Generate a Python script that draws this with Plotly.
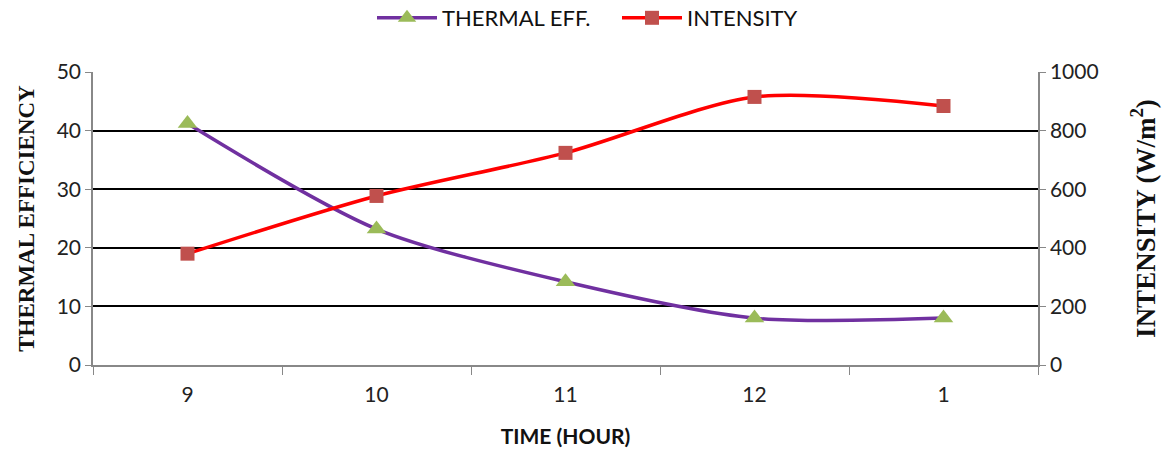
import plotly.graph_objects as go

hours = ["9", "10", "11", "12", "1"]
thermal_eff = [41.2, 23.2, 14.2, 8.0, 8.0]
intensity = [380, 577, 724, 915, 884]

fig = go.Figure()
fig.add_trace(go.Scatter(
    x=hours, y=thermal_eff, name="THERMAL EFF.", mode="lines+markers",
    line=dict(color="#7030A0", width=3.5, shape="spline", smoothing=0.8),
    marker=dict(symbol="triangle-up", size=17, color="#9BBB59"),
    yaxis="y"))
fig.add_trace(go.Scatter(
    x=hours, y=intensity, name="INTENSITY", mode="lines+markers",
    line=dict(color="#FF0000", width=3.5, shape="spline", smoothing=0.8),
    marker=dict(symbol="square", size=14, color="#C0504D"),
    yaxis="y2"))

sans = "Lato, Noto Sans, sans-serif"
tickfont = dict(family=sans, size=21, color="#222222")
fig.update_layout(
    width=1168, height=454,
    margin=dict(l=93, r=130, t=72, b=89, autoexpand=False),
    plot_bgcolor="white", paper_bgcolor="white",
    showlegend=True,
    legend=dict(orientation="h", x=372 / 1168, xanchor="left", xref="container",
                y=1 - 18 / 454, yanchor="middle", yref="container",
                font=dict(family=sans, size=22, color="#111111"),
                itemwidth=60, entrywidth=170, traceorder="normal"),
    xaxis=dict(
        type="category", range=[-0.5, 4.5], tickson="boundaries",
        ticks="outside", ticklen=8, tickcolor="#888888", ticklabelstandoff=10,
        showline=True, linecolor="#888888", linewidth=1.5,
        showgrid=False, tickfont=tickfont,
        title=dict(text="<b>TIME (HOUR)</b>", font=dict(family=sans, size=21, color="#111111"), standoff=24)),
    yaxis=dict(
        range=[0, 50], dtick=10, ticks="outside", ticklen=6, tickcolor="#888888",
        showline=True, linecolor="#888888", linewidth=1.5,
        showgrid=True, gridcolor="#000000", gridwidth=1.5, zeroline=False,
        tickfont=tickfont,
        title=dict(text="<b>THERMAL EFFICIENCY</b>", font=dict(family="Liberation Serif, serif", size=23, color="#111111"), standoff=16)),
    yaxis2=dict(
        range=[0, 1000], dtick=200, overlaying="y", side="right",
        ticks="outside", ticklen=6, tickcolor="#888888",
        showline=True, linecolor="#888888", linewidth=1.5,
        showgrid=False, zeroline=False, tickfont=tickfont,
        title=dict(text="<b>INTENSITY (W/m<sup>2</sup>)</b>", font=dict(family="Liberation Serif, serif", size=27, color="#111111"), standoff=38)),
)
fig.write_html("out.html")
